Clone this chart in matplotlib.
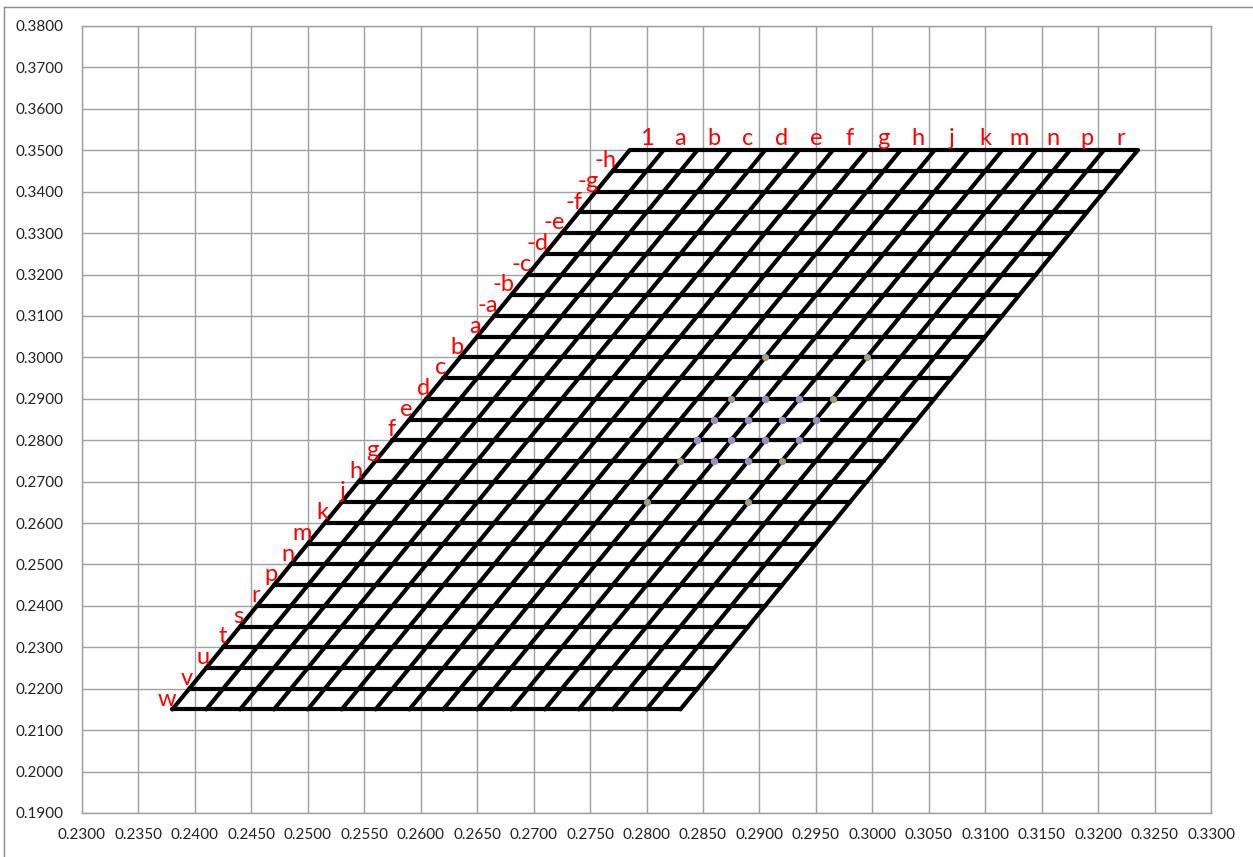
import matplotlib
matplotlib.use("Agg")
import matplotlib.pyplot as plt
from matplotlib.lines import Line2D
from matplotlib.ticker import FormatStrFormatter, MultipleLocator
from matplotlib.transforms import offset_copy

# Row names (one per band between horizontal lines, top to bottom)
row_labels = ['-h', '-g', '-f', '-e', '-d', '-c', '-b', '-a',
              'a', 'b', 'c', 'd', 'e', 'f', 'g', 'h', 'j', 'k',
              'm', 'n', 'p', 'r', 's', 't', 'u', 'v', 'w']
# Column names (one per band between slanted lines, left to right)
col_labels = ['1', 'a', 'b', 'c', 'd', 'e', 'f', 'g', 'h', 'j', 'k',
              'm', 'n', 'p', 'r']

# Horizontal grid lines (y levels), top to bottom
row_levels = [0.350, 0.345, 0.340, 0.335, 0.330, 0.325, 0.320, 0.315,
              0.310, 0.305, 0.300, 0.295, 0.290, 0.285, 0.280, 0.275,
              0.270, 0.265, 0.260, 0.255, 0.250, 0.245, 0.240, 0.235,
              0.230, 0.225, 0.220, 0.215]
# Slanted grid lines: x where each one meets the bottom row
col_base_x = [0.238, 0.241, 0.244, 0.247, 0.250, 0.253, 0.256, 0.259,
              0.262, 0.265, 0.268, 0.271, 0.274, 0.277, 0.280, 0.283]
slant = 0.3  # horizontal shift per unit of height

# Marked nodes
purple_x = [0.2905, 0.2935,
            0.2860, 0.2890, 0.2920, 0.2950,
            0.2845, 0.2875, 0.2905, 0.2935,
            0.2860, 0.2890]
purple_y = [0.290, 0.290,
            0.285, 0.285, 0.285, 0.285,
            0.280, 0.280, 0.280, 0.280,
            0.275, 0.275]
orange_x = [0.2905, 0.2995, 0.2875, 0.2965, 0.2830, 0.2920, 0.2800, 0.2890]
orange_y = [0.300, 0.300, 0.290, 0.290, 0.275, 0.275, 0.265, 0.265]

W, H = 1253, 857
fig = plt.figure(figsize=(W / 100, H / 100), dpi=100)
fig.patch.set_facecolor('white')
ax = fig.add_axes([82 / W, 1 - 813 / H, (1211 - 82) / W, (813 - 26) / H])

ax.set_xlim(0.23, 0.33)
ax.set_ylim(0.19, 0.38)
ax.xaxis.set_major_locator(MultipleLocator(0.005))
ax.yaxis.set_major_locator(MultipleLocator(0.01))
ax.xaxis.set_major_formatter(FormatStrFormatter('%.4f'))
ax.yaxis.set_major_formatter(FormatStrFormatter('%.4f'))

grid_col = '#a0a0a0'
ax.grid(True, color=grid_col, linewidth=1.0)
ax.set_axisbelow(True)
for s in ax.spines.values():
    s.set_color(grid_col)
    s.set_linewidth(1.0)
ax.tick_params(length=0, labelsize=11, labelcolor='#222222')
ax.tick_params(axis='y', pad=13)
ax.tick_params(axis='x', pad=10.5)
for lab in ax.get_xticklabels() + ax.get_yticklabels():
    lab.set_family('Lato')

y_top = max(row_levels)
y_bot = min(row_levels)
span = col_base_x[-1] - col_base_x[0]


def left_edge(y):
    return col_base_x[0] + slant * (y - y_bot)


lw = 3.0
for y in row_levels:
    x0 = left_edge(y)
    ax.plot([x0, x0 + span], [y, y], color='black', lw=lw,
            solid_capstyle='round', zorder=3)
for xb in col_base_x:
    ax.plot([xb, xb + slant * (y_top - y_bot)], [y_bot, y_top],
            color='black', lw=lw, solid_capstyle='round', zorder=3)

ax.plot(purple_x, purple_y, linestyle='none', marker='o', markersize=4.4,
        markerfacecolor='#9d8cc6', markeredgecolor='#9d8cc6', zorder=5)
ax.plot(orange_x, orange_y, linestyle='none', marker='o', markersize=4.2,
        markerfacecolor='#f08a3c', markeredgecolor='#5fa8b8',
        markeredgewidth=1.0, zorder=5)

red = '#ff0000'
lab_font = dict(family='Lato', fontsize=17, color=red)

# Row labels along the slanted left edge
t_left = offset_copy(ax.transData, fig=fig, x=-5, y=0, units='dots')
for i, name in enumerate(row_labels):
    ym = (row_levels[i] + row_levels[i + 1]) / 2
    ax.text(left_edge(ym), ym, name, transform=t_left,
            ha='right', va='center', zorder=6, **lab_font)

# Column labels above the top edge
t_top = offset_copy(ax.transData, fig=fig, x=0, y=5, units='dots')
shift = slant * (y_top - y_bot)
for k, name in enumerate(col_labels):
    xm = (col_base_x[k] + col_base_x[k + 1]) / 2 + shift
    ax.text(xm, y_top, name, transform=t_top,
            ha='center', va='baseline', zorder=6, **lab_font)

# Chart-area frame
fig.add_artist(Line2D([4 / W, 4 / W], [0, 1 - 7 / H],
                      transform=fig.transFigure, color='#8c8c8c', lw=1))
fig.add_artist(Line2D([4 / W, 1], [1 - 7 / H, 1 - 7 / H],
                      transform=fig.transFigure, color='#8c8c8c', lw=1))

fig.savefig('out.png', dpi=100, facecolor='white')
